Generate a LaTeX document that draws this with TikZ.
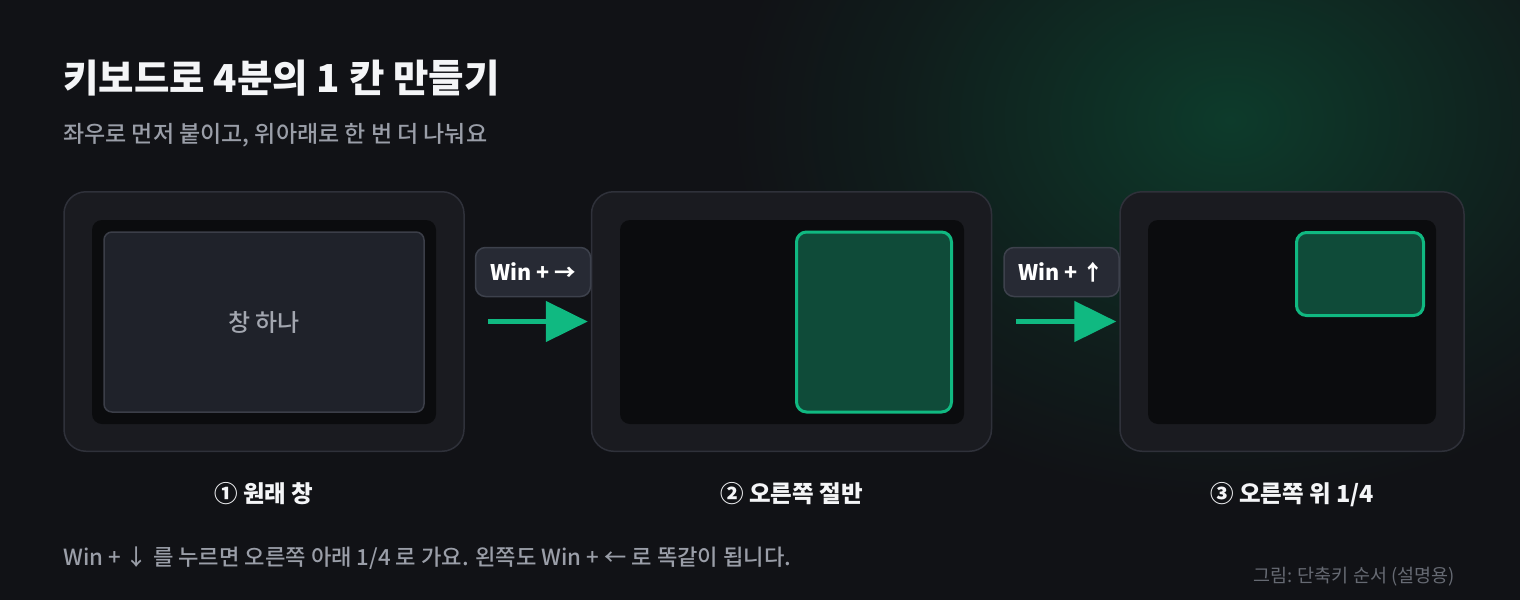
\documentclass[tikz,border=0pt]{standalone}
\usepackage{fontspec}
\setmainfont{Noto Sans CJK KR}
\newfontfamily\medfont{Noto Sans CJK KR Medium}
\usetikzlibrary{positioning,arrows.meta}
\definecolor{bgc}{HTML}{111216}
\definecolor{glowc}{HTML}{0D3B2B}
\definecolor{framebg}{HTML}{1A1B20}
\definecolor{framebd}{HTML}{2F313A}
\definecolor{screenc}{HTML}{0B0C0E}
\definecolor{winc}{HTML}{1F222A}
\definecolor{winbd}{HTML}{3B3E48}
\definecolor{greenc}{HTML}{0F4B39}
\definecolor{greenbd}{HTML}{10B981}
\definecolor{keyc}{HTML}{272A34}
\definecolor{keybd}{HTML}{3D414C}
\definecolor{titlec}{HTML}{F4F5F7}
\definecolor{subc}{HTML}{9A9EA8}
\definecolor{wintext}{HTML}{A3A7B0}
\definecolor{notec}{HTML}{666A73}
\colorlet{glowmid}{glowc!60!bgc}
\colorlet{glowlow}{glowc!25!bgc}
\pgfdeclareradialshading{glowshade}{\pgfpointorigin}{color(0bp)=(glowc); color(9bp)=(glowmid); color(17bp)=(glowlow); color(25bp)=(bgc); color(50bp)=(bgc)}

\begin{document}
\begin{tikzpicture}[x=1pt,y=-1pt,
  frame/.style={draw=framebd,fill=framebg,line width=1.5pt,rounded corners=22pt,minimum height=259.5pt},
  screen/.style={fill=screenc,rounded corners=10pt,minimum height=204pt},
  winbox/.style={draw=winbd,fill=winc,line width=1.5pt,rounded corners=8pt},
  snapbox/.style={draw=greenbd,fill=greenc,line width=3pt,rounded corners=10pt},
  keycap/.style={draw=keybd,fill=keyc,line width=1.5pt,rounded corners=10pt,minimum width=115pt,minimum height=49pt,
    text=white,font=\fontsize{21.5}{24}\selectfont\bfseries},
  steplabel/.style={text=titlec,inner sep=0pt,font=\fontsize{23.5}{26}\selectfont\bfseries},
  flow/.style={draw=greenbd,line width=5pt,-{Triangle[length=42pt,width=40pt]}}]
  \useasboundingbox (0,0) rectangle (1520,600);
  \fill[bgc] (0,0) rectangle (1520,600);
  \begin{scope}
    \clip (0,0) rectangle (1520,600);
    \shade[shading=glowshade] (1230,120) ellipse (500 and 380);
  \end{scope}

  \node[anchor=west,inner sep=0pt,text=titlec,font=\fontsize{38.5}{42}\selectfont\bfseries] (title) at (63,78) {키보드로 4분의 1 칸 만들기};
  \node[anchor=west,inner sep=0pt,text=subc,font=\fontsize{23}{26}\selectfont\medfont] (subtitle) at (63,135) {좌우로 먼저 붙이고, 위아래로 한 번 더 나눠요};

  \node[frame,minimum width=400pt] (f1) at (264,321.5) {};
  \node[frame,minimum width=400pt] (f2) at (791.5,321.5) {};
  \node[frame,minimum width=344pt] (f3) at (1292,321.5) {};
  \node[screen,minimum width=344pt] (s1) at (264,322) {};
  \node[screen,minimum width=344pt] (s2) at (792,322) {};
  \node[screen,minimum width=288pt] (s3) at (1292,322) {};

  \node[winbox,minimum width=320pt,minimum height=180pt,text=wintext,font=\fontsize{24}{26}\selectfont\medfont] (w1) at (264,322) {창 하나};
  \node[snapbox,minimum width=155pt,minimum height=180pt] (w2) at (874,322) {};
  \node[snapbox,minimum width=127pt,minimum height=83pt] (w3) at (1360,274) {};

  \node[keycap] (k1) at (533,272) {Win + →};
  \node[keycap] (k2) at (1061.5,272) {Win + ↑};
  \draw[flow] ([xshift=23pt]f1.east) -- ([xshift=-3pt]f2.west);
  \draw[flow] ([xshift=24pt]f2.east) -- ([xshift=-3pt]f3.west);

  \node[steplabel,below=30pt of f1] (l1) {① 원래 창};
  \node[steplabel,below=30pt of f2] (l2) {② 오른쪽 절반};
  \node[steplabel,below=30pt of f3] (l3) {③ 오른쪽 위 1/4};

  \node[anchor=west,inner sep=0pt,text=subc,font=\fontsize{22.2}{24}\selectfont\medfont] (note) at (63,558) {Win + ↓ 를 누르면 오른쪽 아래 1/4 로 가요. 왼쪽도 Win + ← 로 똑같이 됩니다.};
  \node[anchor=east,inner sep=0pt,text=notec,font=\fontsize{18.5}{20}\selectfont] (credit) at (1455,577) {그림: 단축키 순서 (설명용)};
\end{tikzpicture}
\end{document}
